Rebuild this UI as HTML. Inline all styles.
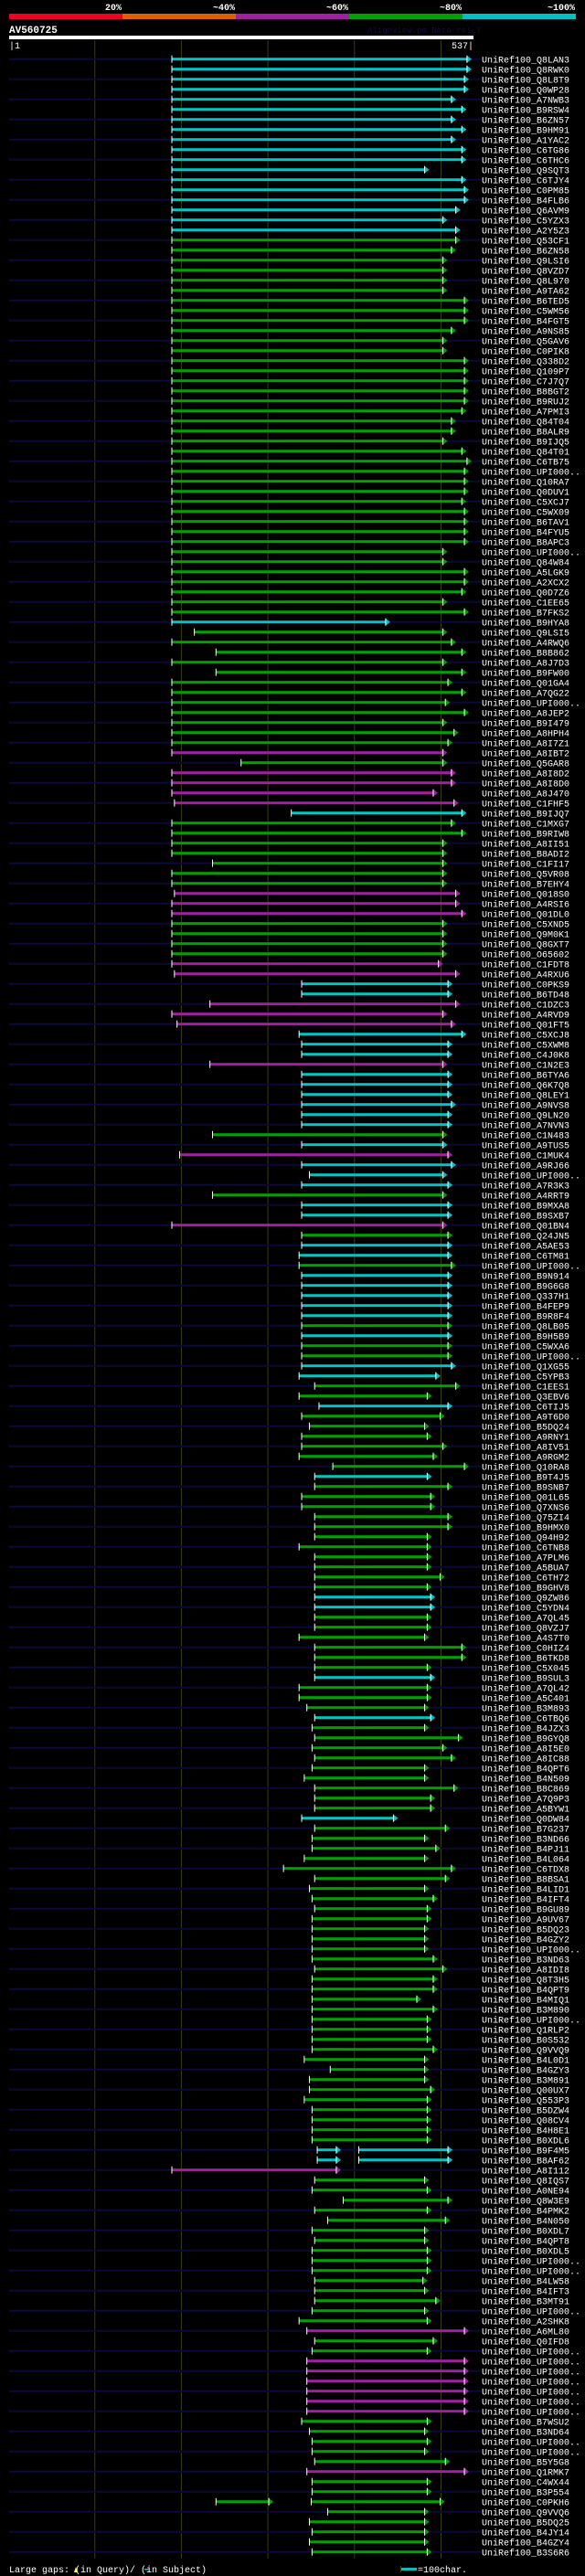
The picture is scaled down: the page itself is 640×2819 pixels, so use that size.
<!DOCTYPE html>
<html><head><meta charset="utf-8"><title>AV560725 alignment</title>
<style>
html,body{margin:0;padding:0;background:#000;}
svg{display:block;font-family:"Liberation Mono",monospace;}
</style></head>
<body>
<svg id="chart" width="640" height="2819" viewBox="0 0 640 2819" xmlns="http://www.w3.org/2000/svg">
<rect x="0" y="0" width="640" height="2819" fill="#000"/>
<g>
<text x="133" y="11" fill="#fff" font-weight="bold" font-size="10" text-anchor="end">20%</text>
<text x="257" y="11" fill="#fff" font-weight="bold" font-size="10" text-anchor="end">~40%</text>
<text x="381" y="11" fill="#fff" font-weight="bold" font-size="10" text-anchor="end">~60%</text>
<text x="505" y="11" fill="#fff" font-weight="bold" font-size="10" text-anchor="end">~80%</text>
<text x="629" y="11" fill="#fff" font-weight="bold" font-size="10" text-anchor="end">~100%</text>
<rect x="10" y="15" width="124" height="6" fill="#f00020"/>
<rect x="134" y="15" width="124" height="6" fill="#e06000"/>
<rect x="258" y="15" width="124" height="6" fill="#a020a0"/>
<rect x="382" y="15" width="124" height="6" fill="#00a000"/>
<rect x="506" y="15" width="124" height="6" fill="#00c0c0"/>
</g>
<text x="10" y="36" fill="#fff" font-weight="bold" font-size="11">AV560725</text>
<text x="402" y="36" fill="#101040" font-size="9">AlignView.pm Beta rel.7</text>
<rect x="10" y="39" width="508" height="4" fill="#fff"/>
<text x="10" y="53" fill="#fff" font-size="10">|1</text>
<text x="518" y="53" fill="#fff" font-size="10" text-anchor="end">537|</text>
<g id="grid"></g>
<g id="rows"></g>
<g>
<text x="10" y="2815" fill="#fff" font-size="10">Large gaps:  (in Query)/  (in Subject)</text>
<polygon points="81,2815 83,2809 85,2815" fill="#ffff60"/>
<rect x="158" y="2811" width="5" height="1.5" fill="#00c0c0"/>
<rect x="438" y="2808" width="1" height="7" fill="#404010"/>
<rect x="439" y="2810" width="17" height="3" fill="#00c0c0"/>
<text x="457" y="2815" fill="#fff" font-size="10">=100char.</text>
</g>
</svg>
<script>
const gridTicks = [100, 200, 300, 400, 500];
const starts = [
189,189,189,189,189,189,189,189,189,189,
189,189,189,189,189,189,189,189,189,189,
189,189,189,189,189,189,189,189,189,189,
189,189,189,189,189,189,189,189,189,189,
189,189,189,189,189,189,189,189,189,189,
189,189,189,189,189,189,189,215,189,240,
189,240,189,189,189,189,189,189,189,189,
269,189,189,189,192,327,189,189,189,189,
236,189,189,192,189,189,189,189,189,189,
189,192,339,339,233,189,195,336,339,339,
233,339,339,339,339,339,339,236,339,198,
339,348,339,236,339,339,189,339,339,336,
336,339,339,339,339,339,339,339,339,339,
339,336,354,336,359,339,348,339,339,336,
375,354,354,339,339,354,354,354,336,354,
354,354,354,354,354,354,354,336,354,354,
354,354,336,336,345,354,351,354,351,354,
351,342,354,354,354,339,354,351,351,342,
318,354,348,351,354,351,351,351,351,351,
354,351,351,351,351,351,351,351,351,342,
372,348,348,342,351,351,351,351,357,357,
189,354,351,387,354,369,351,354,351,351,
351,354,354,354,351,336,345,354,351,345,
345,345,345,345,345,339,348,351,351,354,
345,351,351,350,369,348,351,348,351];
const ends = [
530,530,527,527,512,524,512,524,512,524,
524,481,524,527,527,517,502,517,517,512,
502,502,502,502,527,527,527,512,502,502,
527,527,527,527,527,524,512,512,502,524,
530,527,527,527,524,527,527,527,527,502,
502,527,527,524,502,527,436,502,512,524,
502,524,508,524,505,527,502,515,508,502,
502,512,512,491,515,524,512,524,502,502,
502,502,502,517,517,524,502,502,502,502,
497,517,508,508,517,502,512,524,508,508,
502,508,508,508,512,508,508,502,502,508,
512,502,508,502,508,508,502,508,508,508,
512,508,508,508,508,508,508,508,508,508,
512,494,517,484,508,499,481,484,502,491,
527,484,508,488,488,508,508,484,484,484,
484,499,484,488,488,484,484,481,524,524,
484,488,484,484,481,488,481,520,502,512,
481,481,515,488,488,445,505,481,494,481,
512,505,481,491,484,484,481,481,481,491,
502,491,491,472,491,484,484,484,491,481,
481,481,488,484,484,484,484,484,379,379,
379,481,484,508,484,505,481,481,484,484,
484,479,481,494,481,484,527,491,484,527,
527,527,527,527,527,484,481,484,481,505,
527,484,484,499,481,481,481,481,484];
const identityClass =
"cccccccccccccccccc" +
"gggggggggggggggggggggggggggggggggggggg" +
"c" + "gggggggggggg" + "m" + "g" + "mmmm" + "c" + "ggggggg" + "mmm" + "gggg" + "mm" +
"cc" + "mmm" + "ccc" + "m" + "cccccc" + "g" + "c" + "m" + "ccc" + "g" + "cc" + "m" + "g" +
"cc" + "g" + "ccccc" + "g" + "c" + "gg" + "cc" + "gg" + "c" + "gggggg" + "c" + "ggggggggggg" +
"cc" + "gggggg" + "c" + "ggg" + "c" + "ggggggggg" + "c" +
"gggggggggggggggggggggggggggggggg" + "cc" + "m" + "ggggggggggggggg" + "m" + "gg" +
"mmmmmm" + "ggggg" + "m" + "gggggggg";
const extraRows = [208, 209, 243];
const extraStarts = [405, 405, 240];
const extraEnds = [508, 508, 301];
const names = [
"Q8LAN3","Q8RWK0","Q8L8T9","Q0WP28","A7NWB3","B9RSW4","B6ZN57","B9HM91","A1YAC2","C6TG86",
"C6THC6","Q9SQT3","C6TJY4","C0PM85","B4FLB6","Q6AVM9","C5YZX3","A2Y5Z3","Q53CF1","B6ZN58",
"Q9LSI6","Q8VZD7","Q8L970","A9TA62","B6TED5","C5WM56","B4FGT5","A9NS85","Q5GAV6","C0PIK8",
"Q338D2","Q109P7","C7J7Q7","B8BGT2","B9RUJ2","A7PMI3","Q84T04","B8ALR9","B9IJQ5","Q84T01",
"C6TB75","UPI000..","Q10RA7","Q0DUV1","C5XCJ7","C5WX09","B6TAV1","B4FYU5","B8APC3","UPI000..",
"Q84W84","A5LGK9","A2XCX2","Q0D7Z6","C1EE65","B7FKS2","B9HYA8","Q9LSI5","A4RWQ6","B8B862",
"A8J7D3","B9FW00","Q01GA4","A7QG22","UPI000..","A8JEP2","B9I479","A8HPH4","A8I7Z1","A8IBT2",
"Q5GAR8","A8I8D2","A8I8D0","A8J470","C1FHF5","B9IJQ7","C1MXG7","B9RIW8","A8II51","B8ADI2",
"C1FI17","Q5VR08","B7EHY4","Q018S0","A4RSI6","Q01DL0","C5XND5","Q9M0K1","Q8GXT7","O65602",
"C1FDT8","A4RXU6","C0PKS9","B6TD48","C1DZC3","A4RVD9","Q01FT5","C5XCJ8","C5XWM8","C4J0K8",
"C1N2E3","B6TYA6","Q6K7Q8","Q8LEY1","A9NVS8","Q9LN20","A7NVN3","C1N483","A9TUS5","C1MUK4",
"A9RJ66","UPI000..","A7R3K3","A4RRT9","B9MXA8","B9SXB7","Q01BN4","Q24JN5","A5AE53","C6TM81",
"UPI000..","B9N914","B9G6G8","Q337H1","B4FEP9","B9R8F4","Q8LB05","B9H5B9","C5WXA6","UPI000..",
"Q1XG55","C5YPB3","C1EES1","Q3EBV6","C6TIJ5","A9T6D0","B5DQ24","A9RNY1","A8IV51","A9RGM2",
"Q10RA8","B9T4J5","B9SNB7","Q01L65","Q7XNS6","Q75ZI4","B9HMX0","Q94H92","C6TNB8","A7PLM6",
"A5BUA7","C6TH72","B9GHV8","Q9ZW86","C5YDN4","A7QL45","Q8VZJ7","A4S7T0","C0HIZ4","B6TKD8",
"C5X045","B9SUL3","A7QL42","A5C401","B3M893","C6TBQ6","B4JZX3","B9GYQ8","A8I5E0","A8IC88",
"B4QPT6","B4N509","B8C869","A7Q9P3","A5BYW1","Q0DW84","B7G237","B3ND66","B4PJ11","B4L064",
"C6TDX8","B8BSA1","B4LID1","B4IFT4","B9GU89","A9UV67","B5DQ23","B4GZY2","UPI000..","B3ND63",
"A8IDI8","Q8T3H5","B4QPT9","B4MIQ1","B3M890","UPI000..","Q1RLP2","B0S532","Q9VVQ9","B4L0D1",
"B4GZY3","B3M891","Q00UX7","Q553P3","B5DZW4","Q08CV4","B4H8E1","B0XDL6","B9F4M5","B8AF62",
"A8I112","Q8IQS7","A0NE94","Q8W3E9","B4PMK2","B4N050","B0XDL7","B4QPT8","B0XDL5","UPI000..",
"UPI000..","B4LW58","B4IFT3","B3MT91","UPI000..","A2SHK8","A6ML80","Q0IFD8","UPI000..","UPI000..",
"UPI000..","UPI000..","UPI000..","UPI000..","UPI000..","B7WSU2","B3ND64","UPI000..","UPI000..","B5Y5G8",
"Q1RMK7","C4WX44","B3P554","C0PKH6","Q9VVQ6","B5DQ25","B4JY14","B4GZY4","B3S6R6"];

const NS = "http://www.w3.org/2000/svg";
const QLEN = 537, X0 = 10, X1 = 517.5, ROW0 = 64.7, PITCH = 11;
const COLORS = {c: "#00c4c4", g: "#00a000", m: "#a020a0"};
function xScale(r) { return X0 + (r - 1) * (X1 - X0) / (QLEN - 1); }
function yScale(i) { return ROW0 + i * PITCH; }
function mk(tag, attrs) { const e = document.createElementNS(NS, tag); for (const k in attrs) e.setAttribute(k, attrs[k]); return e; }

const grid = document.getElementById('grid');
gridTicks.forEach(t => {
  const l = mk('line', {x1: xScale(t), x2: xScale(t), y1: 44, y2: 2800, stroke: '#3c3c10', 'stroke-width': 1});
  
  
  grid.appendChild(l);
});

const rowsG = document.getElementById('rows');
function drawSeg(g, s, e, col) {
  const xs = xScale(s), xe = xScale(e), y = yScale(+g.getAttribute('data-row'));
  const bar = mk('rect', {x: xs, y: y - 1.5, width: Math.max(1, xe - xs), height: 3, fill: col});
  
  
  g.appendChild(bar);
  const tri = mk('polygon', {points: `${xe},${y - 4} ${xe + 5},${y} ${xe},${y + 4}`, fill: col});
  
  
  g.appendChild(tri);
  const base = mk('rect', {x: xe - 0.5, y: y - 4, width: 1, height: 8, fill: '#fff'});
  
  
  g.appendChild(base);
  const tick = mk('rect', {x: xs - 0.5, y: y - 4, width: 1, height: 8, fill: '#fff'});
  
  
  g.appendChild(tick);
}
names.forEach((nm, i) => {
  const y = yScale(i);
  const g = mk('g', {'data-row': i});
  
  
  if (i % 2 === 0) {
    const bg = mk('rect', {x: 10, y: y - 1, width: 516, height: 2, fill: '#0a0a38'});
    
    
    g.appendChild(bg);
  }
  const col = COLORS[identityClass[i]] || COLORS.g;
  drawSeg(g, starts[i], ends[i], col);
  extraRows.forEach((r, k) => { if (r === i) drawSeg(g, extraStarts[k], extraEnds[k], col); });
  const t = mk('text', {x: 527, y: y + 4, fill: '#fff', 'font-size': 10});
  t.textContent = 'UniRef100_' + nm;
  
  
  g.appendChild(t);
  rowsG.appendChild(g);
});
</script>
</body></html>
